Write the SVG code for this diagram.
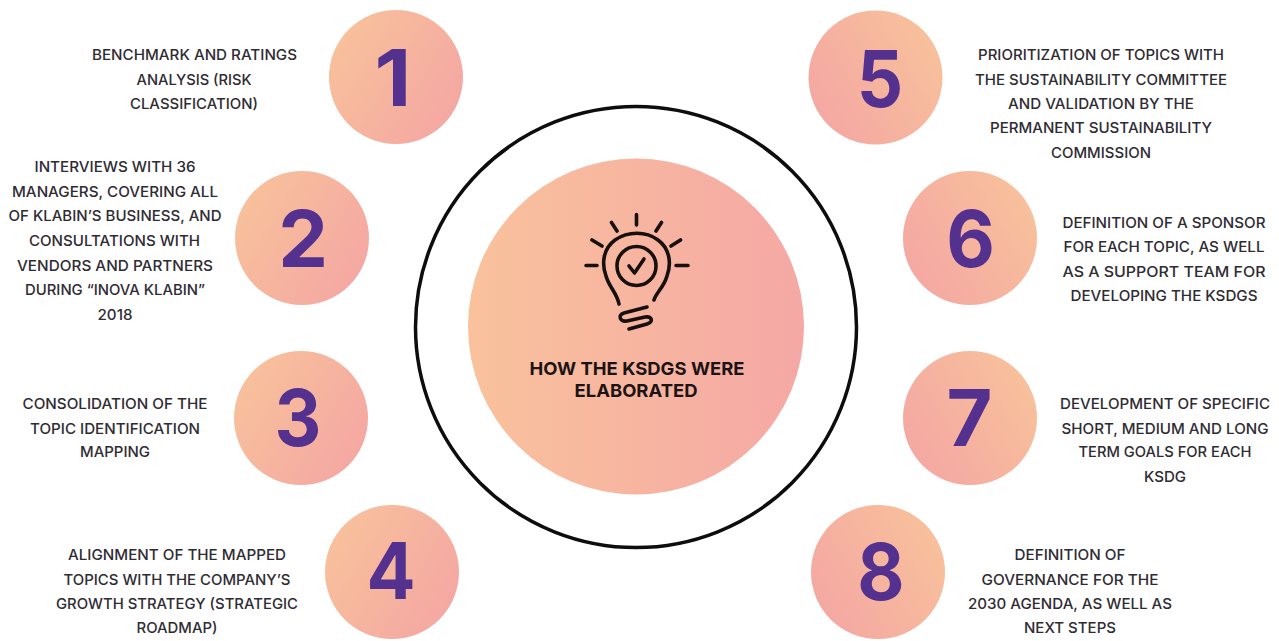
<svg xmlns="http://www.w3.org/2000/svg" width="1279" height="641" viewBox="0 0 1279 641">
<style>
.t{font-family:"Inter","Liberation Sans",sans-serif;font-size:14.5px;font-weight:500;fill:#2f2b33;text-anchor:middle}
.h{font-family:"Inter","Liberation Sans",sans-serif;font-size:18px;font-weight:700;fill:#1c1414;text-anchor:middle}
.n{font-family:"Inter","Liberation Sans",sans-serif;font-size:79px;font-weight:700;fill:#54308f;text-anchor:middle}
.c{fill:url(#g)}
.r{fill:url(#gr)}
.i{fill:none;stroke:#17100f;stroke-width:3.6;stroke-linecap:round;stroke-linejoin:round}
</style>
<defs>
<linearGradient id="g" x1="0" y1="0.2" x2="1" y2="0.8"><stop offset="0" stop-color="#f8c29b"/><stop offset="1" stop-color="#f4a6a3"/></linearGradient>
<linearGradient id="gr" x1="1" y1="0.2" x2="0" y2="0.8"><stop offset="0" stop-color="#f8c29b"/><stop offset="1" stop-color="#f4a6a3"/></linearGradient>
<linearGradient id="g2" x1="0" y1="0" x2="1" y2="0"><stop offset="0" stop-color="#f9c29c"/><stop offset="1" stop-color="#f5a8a5"/></linearGradient>
</defs>
<rect width="1279" height="641" fill="#fff"/>
<g id="connectors"></g>
<g id="center">
<circle cx="636" cy="327" r="220.500" fill="#fff" stroke="#0d0d0d" stroke-width="3.5"/>
<circle cx="636" cy="326.500" r="168" fill="url(#g2)"/>
<g class="i">
<path d="M636.500 214.500V225M611.500 222.500L617 231M661.500 222.500L656 231M592 240L602 246M680.500 240L671 246M586 265.500H597M676 265.500H688"/>
<path d="M619 304C617 293 609 287 606 276C601 262 604 248 615 240C628 231 646 231 658 240C669 248 672 262 667 276C664 287 656 293 654 300"/>
<circle cx="636.500" cy="266" r="19.500"/>
<path d="M629 266L634.500 273L644 259"/>
<path d="M647 307L624 313C617 315 620 322 627 321L645 317C652 316 654 322 647 324L629 329"/>
</g>
<text class="h" x="637" y="375" textLength="215" lengthAdjust="spacingAndGlyphs">HOW THE KSDGS WERE</text>
<text class="h" x="636" y="397" textLength="123" lengthAdjust="spacingAndGlyphs">ELABORATED</text>
</g>
<g id="node1"><circle class="c" cx="396" cy="77" r="67"/><text class="n" transform="translate(393 105.500) scale(1.08 1)">1</text>
<text class="t" x="194.500" y="59.500" textLength="205" lengthAdjust="spacingAndGlyphs">BENCHMARK AND RATINGS</text>
<text class="t" x="194" y="84.500" textLength="115" lengthAdjust="spacingAndGlyphs">ANALYSIS (RISK</text>
<text class="t" x="194" y="108.500" textLength="128" lengthAdjust="spacingAndGlyphs">CLASSIFICATION)</text></g>
<g id="node2"><circle class="c" cx="302" cy="238" r="67"/><text class="n" transform="translate(303 266.500)">2</text>
<text class="t" x="115" y="171.500" textLength="161" lengthAdjust="spacingAndGlyphs">INTERVIEWS WITH 36</text>
<text class="t" x="115" y="196.500" textLength="206" lengthAdjust="spacingAndGlyphs">MANAGERS, COVERING ALL</text>
<text class="t" x="115" y="220.500" textLength="213" lengthAdjust="spacingAndGlyphs">OF KLABIN’S BUSINESS, AND</text>
<text class="t" x="114.500" y="245.500" textLength="171" lengthAdjust="spacingAndGlyphs">CONSULTATIONS WITH</text>
<text class="t" x="115" y="270.500" textLength="196" lengthAdjust="spacingAndGlyphs">VENDORS AND PARTNERS</text>
<text class="t" x="115" y="294.500" textLength="180" lengthAdjust="spacingAndGlyphs">DURING “INOVA KLABIN”</text>
<text class="t" x="115" y="319.500" textLength="35" lengthAdjust="spacingAndGlyphs">2018</text></g>
<g id="node3"><circle class="c" cx="301" cy="418" r="67"/><text class="n" transform="translate(298 445.500) scale(.92 1)">3</text>
<text class="t" x="115" y="408.500" textLength="185" lengthAdjust="spacingAndGlyphs">CONSOLIDATION OF THE</text>
<text class="t" x="115" y="433.500" textLength="170" lengthAdjust="spacingAndGlyphs">TOPIC IDENTIFICATION</text>
<text class="t" x="115" y="456.500" textLength="70" lengthAdjust="spacingAndGlyphs">MAPPING</text></g>
<g id="node4"><circle class="c" cx="392" cy="572" r="67"/><text class="n" transform="translate(391 599) scale(.92 1)">4</text>
<text class="t" x="177" y="559.500" textLength="218" lengthAdjust="spacingAndGlyphs">ALIGNMENT OF THE MAPPED</text>
<text class="t" x="177" y="584.500" textLength="227" lengthAdjust="spacingAndGlyphs">TOPICS WITH THE COMPANY’S</text>
<text class="t" x="177" y="608.500" textLength="242" lengthAdjust="spacingAndGlyphs">GROWTH STRATEGY (STRATEGIC</text>
<text class="t" x="177" y="632.500" textLength="81" lengthAdjust="spacingAndGlyphs">ROADMAP)</text></g>
<g id="node5"><circle class="r" cx="875.500" cy="77.500" r="67"/><text class="n" transform="translate(880 106.500) scale(.92 1)">5</text>
<text class="t" x="1101" y="59.500" textLength="246" lengthAdjust="spacingAndGlyphs">PRIORITIZATION OF TOPICS WITH</text>
<text class="t" x="1101" y="84.500" textLength="252" lengthAdjust="spacingAndGlyphs">THE SUSTAINABILITY COMMITTEE</text>
<text class="t" x="1101" y="108.500" textLength="186" lengthAdjust="spacingAndGlyphs">AND VALIDATION BY THE</text>
<text class="t" x="1101" y="132.500" textLength="222" lengthAdjust="spacingAndGlyphs">PERMANENT SUSTAINABILITY</text>
<text class="t" x="1101" y="157.500" textLength="100" lengthAdjust="spacingAndGlyphs">COMMISSION</text></g>
<g id="node6"><circle class="r" cx="970" cy="238" r="67"/><text class="n" transform="translate(970.500 266.500) scale(.95 1)">6</text>
<text class="t" x="1164" y="227.500" textLength="203" lengthAdjust="spacingAndGlyphs">DEFINITION OF A SPONSOR</text>
<text class="t" x="1164" y="251.500" textLength="201" lengthAdjust="spacingAndGlyphs">FOR EACH TOPIC, AS WELL</text>
<text class="t" x="1164" y="276.500" textLength="203" lengthAdjust="spacingAndGlyphs">AS A SUPPORT TEAM FOR</text>
<text class="t" x="1164" y="300.500" textLength="187" lengthAdjust="spacingAndGlyphs">DEVELOPING THE KSDGS</text></g>
<g id="node7"><circle class="r" cx="970" cy="418" r="67"/><text class="n" transform="translate(969.500 446)">7</text>
<text class="t" x="1165" y="408.500" textLength="210" lengthAdjust="spacingAndGlyphs">DEVELOPMENT OF SPECIFIC</text>
<text class="t" x="1165" y="433.500" textLength="207" lengthAdjust="spacingAndGlyphs">SHORT, MEDIUM AND LONG</text>
<text class="t" x="1165" y="456.500" textLength="173" lengthAdjust="spacingAndGlyphs">TERM GOALS FOR EACH</text>
<text class="t" x="1165" y="481.500" textLength="42" lengthAdjust="spacingAndGlyphs">KSDG</text></g>
<g id="node8"><circle class="r" cx="878" cy="572" r="67"/><text class="n" transform="translate(881 600) scale(.92 1)">8</text>
<text class="t" x="1070" y="559.500" textLength="111" lengthAdjust="spacingAndGlyphs">DEFINITION OF</text>
<text class="t" x="1070" y="584.500" textLength="177" lengthAdjust="spacingAndGlyphs">GOVERNANCE FOR THE</text>
<text class="t" x="1070" y="608.500" textLength="204" lengthAdjust="spacingAndGlyphs">2030 AGENDA, AS WELL AS</text>
<text class="t" x="1070" y="632.500" textLength="92" lengthAdjust="spacingAndGlyphs">NEXT STEPS</text></g>
</svg>
